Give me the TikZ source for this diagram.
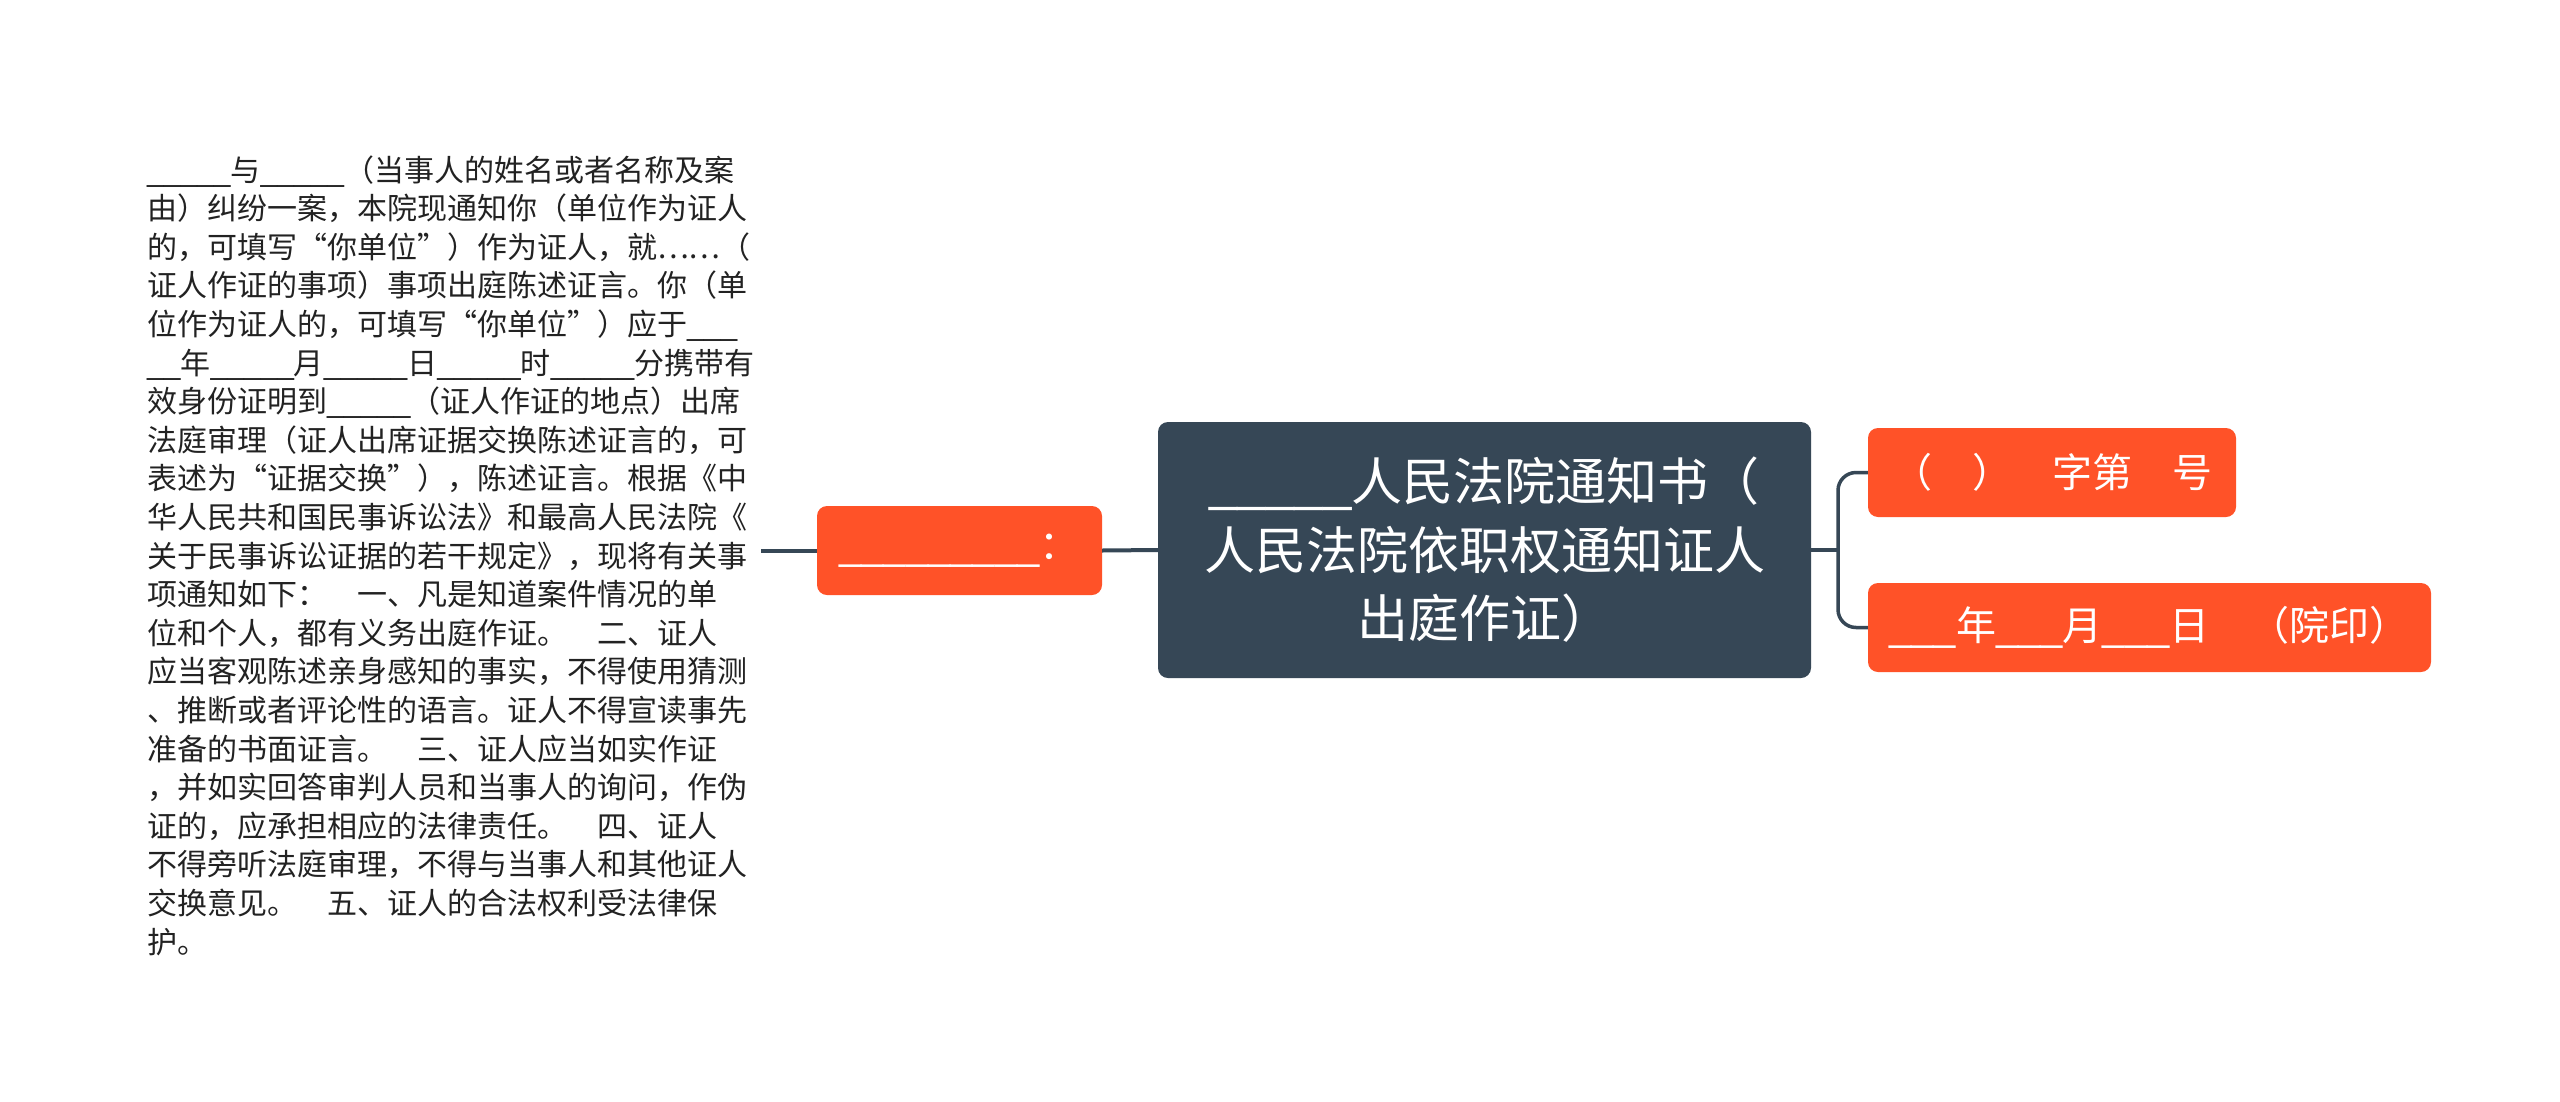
\documentclass[tikz,border=0pt]{standalone}
\usepackage{fontspec}
\setmainfont{Noto Sans CJK SC}
\newfontfamily\lf{Liberation Sans}
\definecolor{slate}{RGB}{54,71,86}
\definecolor{tang}{RGB}{255,82,40}
\definecolor{ink}{RGB}{34,34,34}
\newcommand\ubar[1]{{\lf\foreach\i in {1,...,#1}{\_}}}
\begin{document}
\begin{tikzpicture}[x=1pt,y=-1pt,
  conn/.style={draw=slate, line width=4pt},
  brace/.style={draw=slate, line width=3.5pt, rounded corners=18pt},
  orangebox/.style={fill=tang, rounded corners=10pt, text=white, inner sep=0pt,
    minimum height=89pt, font=\fontsize{40}{48}\selectfont},
  mainbox/.style={fill=slate, rounded corners=10pt, text=white, inner sep=0pt,
    align=center, font=\fontsize{51}{68.5}\selectfont},
  doctext/.style={inner sep=0pt, text width=640pt, align=left, text=ink,
    font=\fontsize{30}{38.6}\selectfont}]
\useasboundingbox (0,0) rectangle (2560,1101);
\fill[white] (0,0) rectangle (2560,1101);

\node[doctext, anchor=base west] (doc) at (147,181) {%
\ubar{5}与\ubar{5}（当事人的姓名或者名称及案\\
由）纠纷一案，本院现通知你（单位作为证人\\
的，可填写“你单位”）作为证人，就……（\\
证人作证的事项）事项出庭陈述证言。你（单\\
位作为证人的，可填写“你单位”）应于\ubar{3}\\
\ubar{2}年\ubar{5}月\ubar{5}日\ubar{5}时\ubar{5}分携带有\\
效身份证明到\ubar{5}（证人作证的地点）出席\\
法庭审理（证人出席证据交换陈述证言的，可\\
表述为“证据交换”），陈述证言。根据《中\\
华人民共和国民事诉讼法》和最高人民法院《\\
关于民事诉讼证据的若干规定》，现将有关事\\
项通知如下：　一、凡是知道案件情况的单\\
位和个人，都有义务出庭作证。　二、证人\\
应当客观陈述亲身感知的事实，不得使用猜测\\
、推断或者评论性的语言。证人不得宣读事先\\
准备的书面证言。　三、证人应当如实作证\\
，并如实回答审判人员和当事人的询问，作伪\\
证的，应承担相应的法律责任。　四、证人\\
不得旁听法庭审理，不得与当事人和其他证人\\
交换意见。　五、证人的合法权利受法律保\\
护。};

\node[mainbox, minimum width=653pt, minimum height=256pt] (main) at (1484.5,550)
  {\ubar{5}人民法院通知书（\\人民法院依职权通知证人\\出庭作证）};

\node[orangebox, minimum width=285pt] (left) at (959.5,550.5)
  {\ubar{9}：};

\node[orangebox, minimum width=368pt] (top) at (2052,472.5)
  {（　）　字第　号};

\node[orangebox, minimum width=563pt] (bot) at (2149.5,627.5)
  {\ubar{3}年\ubar{3}月\ubar{3}日　（院印）};

\coordinate (docend) at (761,550.5);
\coordinate (bx) at (1838,550);

\draw[conn] (docend) -- (left.west);
\draw[conn] (left.east) -- (main.west);
\draw[brace] (main.east) -- (bx);
\draw[brace] (top.west) -| (bx) |- (bot.west);
\end{tikzpicture}
\end{document}
